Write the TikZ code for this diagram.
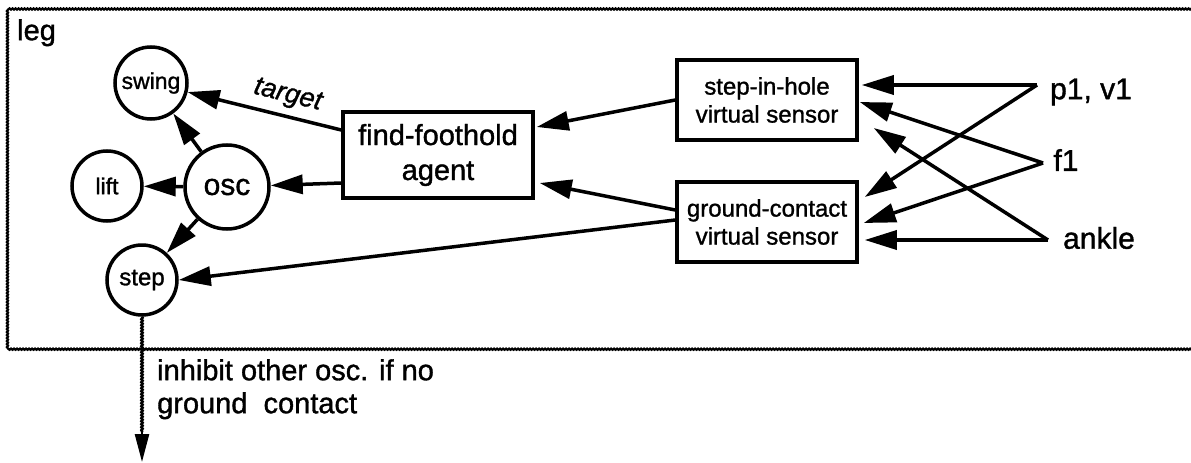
\documentclass[tikz,border=0pt]{standalone}
\usepackage{fontspec}
\setmainfont{Liberation Sans}[FakeBold=1.2,ItalicFeatures={FakeBold=1.2}]
\usetikzlibrary{arrows.meta,decorations.pathmorphing}
\newcommand{\fs}[1]{\fontsize{#1}{#1}\selectfont}
\tikzset{
  circ/.style={circle,draw,line width=3.5pt,inner sep=0pt,minimum size=70pt},
  boxnode/.style={draw,line width=3.5pt,align=center,inner sep=0pt},
  arr/.style={line width=3.5pt,-{Triangle[length=32pt,width=19pt]}},
  wavy/.style={decorate,decoration={snake,amplitude=0.6pt,segment length=3pt},line width=2.2pt},
  lbl/.style={inner sep=0pt}
}
\begin{document}
\begin{tikzpicture}[x=1pt,y=-1pt]
\useasboundingbox (0,0) rectangle (1191,463);
\clip (0,0) rectangle (1191,463);
% frame
\draw[wavy] (1200,9) -- (9,9) -- (9,348) -- (1200,348);
\node[lbl,anchor=north west,font=\fs{29}] (leg) at (17,19) {leg};
% circles
\node[circ,minimum size=72pt,font=\fs{23}] (swing) at (151,83) {swing};
\node[circ,font=\fs{23}] (lift) at (107,186) {lift};
\node[circ,minimum size=84pt,font=\fs{30}] (osc) at (227,187) {osc};
\node[circ,font=\fs{24}] (step) at (142,280) {step};
% boxes
\node[boxnode,minimum width=190pt,minimum height=86pt,font=\fontsize{29}{35}\selectfont] (ff) at (438,155) {find-foothold\\agent};
\node[boxnode,minimum width=180pt,minimum height=80pt,font=\fontsize{24}{28}\selectfont] (sih) at (767,100) {step-in-hole\\virtual sensor};
\node[boxnode,minimum width=180pt,minimum height=80pt,font=\fontsize{24}{28}\selectfont] (gc) at (767,222) {ground-contact\\virtual sensor};
% inputs
\node[lbl,font=\fs{30}] (p1) at (1091,92) {p1, v1};
\node[lbl,font=\fs{30}] (f1) at (1066,160) {f1};
\node[lbl,font=\fs{30}] (ankle) at (1099,238) {ankle};
\coordinate (p1s) at (1037,85);
\coordinate (f1s) at (1043,163);
\coordinate (as) at (1048,240);
% sensor inputs
\draw[arr] (p1s) -- ([xshift=3pt,yshift=15pt]sih.east);
\draw[arr] (p1s) -- ([xshift=6pt,yshift=25pt]gc.east);
\draw[arr] (f1s) -- ([xshift=1pt,yshift=-2pt]sih.east);
\draw[arr] (f1s) -- ([xshift=5pt,yshift=-1pt]gc.east);
\draw[arr] (as) -- ([xshift=15pt,yshift=-28pt]sih.east);
\draw[arr] (as) -- ([xshift=6pt,yshift=-18pt]gc.east);
% sensors to agent
\draw[arr] (sih.west) -- ([xshift=2pt,yshift=28pt]ff.east);
\draw[arr] ([yshift=12pt]gc.west) -- ([xshift=5pt,yshift=-28pt]ff.east);
\draw[arr] ([yshift=2pt]gc.west) -- (step.east);
% agent to circles
\draw[arr] ([yshift=25pt]ff.west) -- (swing) node[pos=0.38,above,sloped,font=\itshape\fs{27},inner sep=7pt] {target};
\draw[arr] ([yshift=-28pt]ff.west) -- (osc);
% osc
\draw[arr] (osc) -- (swing);
\draw[arr] (osc) -- (lift);
\draw[arr] (osc) -- (step);
% inhibit
\coordinate (inh) at (142,462);
\draw[wavy,line width=2.6pt] (step.south) -- ([yshift=30pt]inh);
\draw[line width=2.5pt,-{Triangle[length=28pt,width=14pt]}] ([yshift=34pt]inh) -- (inh);
\node[lbl,anchor=north west,align=left,font=\fontsize{29}{33}\selectfont] (txt) at (157,359) {inhibit other osc. if no\\ground\ \ contact};
\end{tikzpicture}
\end{document}
